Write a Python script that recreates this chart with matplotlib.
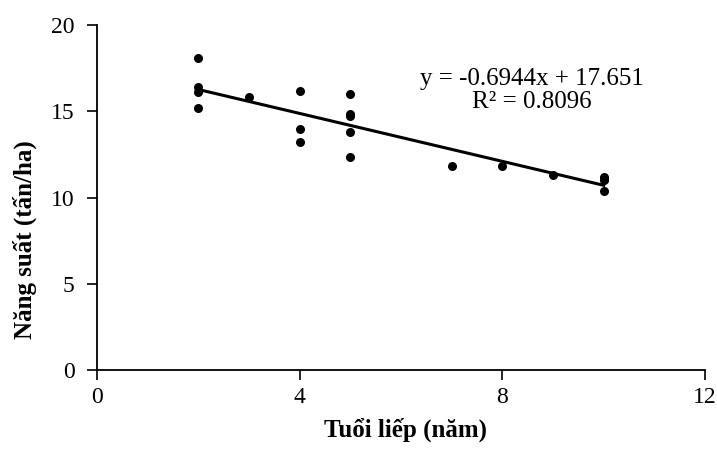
import numpy as np
import matplotlib.pyplot as plt

# Số liệu
tuoi_liep = [2, 2, 2, 2, 3, 4, 4, 4, 5, 5, 5, 5, 5, 7, 8, 9, 10, 10, 10, 10]
nang_suat = [18.1, 16.4, 16.1, 15.2, 15.8, 16.2, 14.0, 13.2,
             16.0, 14.85, 14.7, 13.8, 12.35, 11.85, 11.85, 11.3,
             11.2, 11.1, 11.0, 10.4]

# Đường xu hướng (theo phương trình trên hình)
he_so_a = -0.6944
he_so_b = 17.651
x_trend = np.array([2, 10])

x_ticks = [0, 4, 8, 12]
y_ticks = [0, 5, 10, 15, 20]

plt.rcParams['font.family'] = ['Liberation Serif', 'DejaVu Serif']

fig = plt.figure(figsize=(7.17, 4.53), dpi=100)
ax = fig.add_axes([0.1353, 0.1832, 0.848, 0.7616])

ax.scatter(tuoi_liep, nang_suat, s=30, color='black', zorder=3)
ax.plot(x_trend, he_so_a * x_trend + he_so_b, color='black', linewidth=2.2)

ax.text(0.715, 0.81, 'y = -0.6944x + 17.651\nR² = 0.8096', transform=ax.transAxes,
        ha='center', va='center', fontsize=18, linespacing=1.1)

ax.set_xlim(0, 12)
ax.set_ylim(0, 20)
ax.set_xticks(x_ticks)
ax.set_yticks(y_ticks)
ax.tick_params(labelsize=17, width=1.2, length=7, direction='out')
ax.tick_params(axis='x', pad=5)
ax.tick_params(axis='y', pad=9)

for s in ['top', 'right']:
    ax.spines[s].set_visible(False)
for s in ['left', 'bottom']:
    ax.spines[s].set_linewidth(1.3)

ax.set_xlabel('Tuổi liếp (năm)', fontsize=18, fontweight='bold')
ax.set_ylabel('Năng suất (tấn/ha)', fontsize=18, fontweight='bold')
ax.xaxis.set_label_coords(0.508, -0.139)
ax.yaxis.set_label_coords(-0.099, 0.377)

fig.savefig('out.png', dpi=100)
